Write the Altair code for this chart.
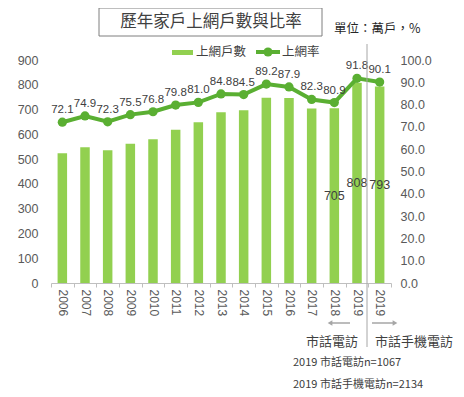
import altair as alt
import pandas as pd

categories = ["2006", "2007", "2008", "2009", "2010", "2011", "2012", "2013",
              "2014", "2015", "2016", "2017", "2018", "2019", "2019 "]
households = [524, 548, 536, 562, 580, 618, 649, 689, 697, 748, 747, 704, 705, 808, 793]
rates = [72.1, 74.9, 72.3, 75.5, 76.8, 79.8, 81.0, 84.8, 84.5, 89.2, 87.9, 82.3, 80.9, 91.8, 90.1]
bar_label_years = ["2018", "2019", "2019 "]

title_text = "歷年家戶上網戶數與比率"
unit_text = "單位：萬戶，%"
legend_labels = ["上網戶數", "上網率"]
method_labels = ["市話電訪", "市話手機電訪"]
notes = ["2019 市話電訪n=1067", "2019 市話手機電訪n=2134"]

BAR = "#92D050"
LINE = "#5AAF32"
TXT = "#404040"
AX = "#595959"
CJK = "Noto Sans CJK TC"
LAT = "Liberation Sans"

df = pd.DataFrame({"cat": categories, "households": households, "rate": rates})

xenc = alt.X("cat:N", sort=categories, title=None,
             scale=alt.Scale(paddingInner=0, paddingOuter=0),
             axis=alt.Axis(labelAngle=90, labelAlign="left", labelBaseline="middle",
                           labelExpr="isString(datum.value) ? trim(datum.value) : ''",
                           labelFont=LAT, labelFontSize=12,
                           labelColor=AX, domainColor="#BFBFBF", tickColor="#BFBFBF",
                           tickBand="extent", tickSize=4, labelPadding=2))

left_axis = alt.Axis(title=None, values=list(range(0, 901, 100)), grid=False, domain=False,
                     ticks=False, labelPadding=13, labelFont=LAT, labelFontSize=12.5,
                     labelColor=AX, orient="left")
right_axis = alt.Axis(title=None, values=list(range(0, 101, 10)), format=".1f", grid=False,
                      domain=False, ticks=False, labelPadding=9, labelFont=LAT,
                      labelFontSize=12.5, labelColor=AX, orient="right")
lscale = alt.Scale(domain=[0, 900], nice=False)
rscale = alt.Scale(domain=[0, 100], nice=False)

base = alt.Chart(df)
bars = base.mark_bar(color=BAR, size=9.5).encode(
    x=xenc, y=alt.Y("households:Q", scale=lscale, axis=left_axis))
bar_labels = base.transform_filter(
    alt.FieldOneOfPredicate(field="cat", oneOf=bar_label_years)
).transform_calculate(half="datum.households / 2").mark_text(
    font=LAT, fontSize=12.5, color=TXT, baseline="middle"
).encode(x=xenc, y=alt.Y("half:Q", scale=lscale, axis=left_axis), text="households:Q")
left_layer = alt.layer(bars, bar_labels)

line = base.mark_line(color=LINE, strokeWidth=4).encode(
    x=xenc, y=alt.Y("rate:Q", scale=rscale, axis=right_axis))
pts = base.mark_circle(color=LINE, size=85, opacity=1).encode(
    x=xenc, y=alt.Y("rate:Q", scale=rscale, axis=right_axis))
line_labels = base.mark_text(font=LAT, fontSize=11.5, color=TXT, dy=-9,
                             baseline="alphabetic").encode(
    x=xenc, y=alt.Y("rate:Q", scale=rscale, axis=right_axis),
    text=alt.Text("rate:Q", format=".1f"))
right_layer = alt.layer(line, pts, line_labels)


def one(val):
    return alt.Chart(pd.DataFrame({"t": [val]}))


annots = []
# title box
annots.append(one(title_text).mark_rect(fill="white", stroke="#7F7F7F", strokeWidth=1).encode(
    x=alt.value(48), x2=alt.value(271), y=alt.value(-52), y2=alt.value(-24)))
annots.append(one(title_text).mark_text(font=CJK, fontSize=16.5, color=TXT, align="center",
                                        baseline="middle").encode(
    x=alt.value(160), y=alt.value(-38), text="t:N"))
annots.append(one(unit_text).mark_text(font=CJK, fontSize=12.5, color="#262626", align="left",
                                       baseline="middle").encode(
    x=alt.value(283), y=alt.value(-31), text="t:N"))
# legend
annots.append(one(legend_labels[0]).mark_rect(color=BAR).encode(
    x=alt.value(121), x2=alt.value(142), y=alt.value(-10), y2=alt.value(-5)))
annots.append(one(legend_labels[0]).mark_text(font=CJK, fontSize=12.5, color=TXT, align="left",
                                              baseline="middle").encode(
    x=alt.value(145), y=alt.value(-8), text="t:N"))
annots.append(one(legend_labels[1]).mark_rule(color=LINE, strokeWidth=4).encode(
    x=alt.value(205), x2=alt.value(229), y=alt.value(-8)))
annots.append(one(legend_labels[1]).mark_circle(color=LINE, size=85, opacity=1).encode(
    x=alt.value(217), y=alt.value(-8)))
annots.append(one(legend_labels[1]).mark_text(font=CJK, fontSize=12.5, color=TXT, align="left",
                                              baseline="middle").encode(
    x=alt.value(231), y=alt.value(-8), text="t:N"))
# separator
annots.append(one("sep").mark_rule(color="#A6A6A6", strokeWidth=1).encode(
    x=alt.value(316), y=alt.value(-16), y2=alt.value(287)))
# arrows
annots.append(one("a1").mark_rule(color="#A6A6A6", strokeWidth=1.5).encode(
    x=alt.value(280), x2=alt.value(299), y=alt.value(263)))
annots.append(one("a1").mark_point(shape="triangle-left", filled=True, color="#A6A6A6",
                                   size=30, opacity=1).encode(
    x=alt.value(279), y=alt.value(263)))
annots.append(one("a2").mark_rule(color="#A6A6A6", strokeWidth=1.5).encode(
    x=alt.value(321), x2=alt.value(342), y=alt.value(263)))
annots.append(one("a2").mark_point(shape="triangle-right", filled=True, color="#A6A6A6",
                                   size=30, opacity=1).encode(
    x=alt.value(344), y=alt.value(263)))
annots.append(one(method_labels[0]).mark_text(font=CJK, fontSize=13, color=TXT, align="center",
                                              baseline="middle").encode(
    x=alt.value(281), y=alt.value(282), text="t:N"))
annots.append(one(method_labels[1]).mark_text(font=CJK, fontSize=13, color=TXT, align="center",
                                              baseline="middle").encode(
    x=alt.value(363), y=alt.value(282), text="t:N"))
annots.append(one(notes[0]).mark_text(font=CJK, fontSize=11, color=TXT, align="left",
                                      baseline="middle").encode(
    x=alt.value(242), y=alt.value(303), text="t:N"))
annots.append(one(notes[1]).mark_text(font=CJK, fontSize=11, color=TXT, align="left",
                                      baseline="middle").encode(
    x=alt.value(242), y=alt.value(325), text="t:N"))

chart = alt.layer(left_layer, right_layer, *annots).resolve_scale(y="independent").properties(
    width=340, height=223,
    padding={"left": 43, "top": 52, "right": 64, "bottom": 112},
    autosize=alt.AutoSizeParams(type="none"),
    background="white",
).configure_view(stroke=None)

chart.save("out.html", embed_options={"renderer": "svg", "actions": False})
